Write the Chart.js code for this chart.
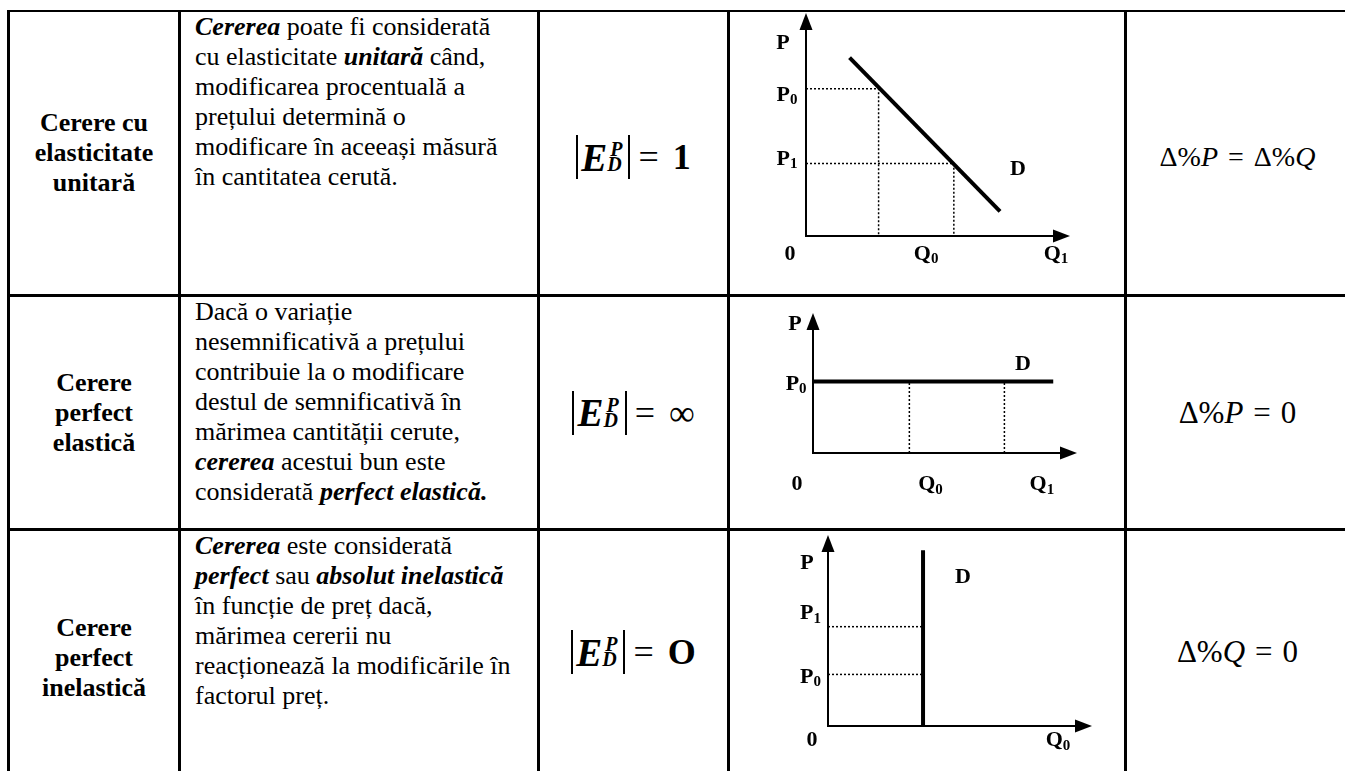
<!DOCTYPE html>
<html>
<head>
<meta charset="utf-8">
<script src="https://cdn.jsdelivr.net/npm/chart.js@4.4.0/dist/chart.umd.min.js"></script>
<style>
body { margin:0; background:#fff; width:1345px; height:771px; overflow:hidden; position:relative;
       font-family:"Liberation Serif","Times New Roman",serif; color:#000; }
.hl { position:absolute; left:7px; width:1338px; height:3px; background:#000; }
.vl { position:absolute; top:10px; width:3px; height:761px; background:#000; }
.cell { position:absolute; display:flex; align-items:center; justify-content:center; }
.label { font-weight:bold; font-size:26px; line-height:30px; text-align:center; }
.txt { position:absolute; left:195px; font-size:26px; line-height:30px; white-space:nowrap; }
.bi { font-weight:bold; font-style:italic; }
canvas { position:absolute; }
.el { display:flex; align-items:center; font-size:36px; white-space:nowrap; }
.el .bar { display:inline-block; width:2px; height:44px; background:#000; }
.el .E { font-weight:bold; font-style:italic; font-size:39px; margin-left:3px; }
.el .ss { display:inline-flex; flex-direction:column; font-size:20px; line-height:15px; font-weight:bold; font-style:italic; margin:0 6px 0 3px; }
.el .ss i:last-child { margin-left:-3px; }
.el .eq { margin:0 14px 0 8px; }
.el .rhs { font-weight:bold; }
.pct { font-size:28px; white-space:nowrap; }
.pct.big { font-size:31px; }
.pct .sp { display:inline-block; width:10px; }
</style>
</head>
<body>
<!-- table grid -->
<div class="hl" style="top:10px;height:2px"></div>
<div class="hl" style="top:294px"></div>
<div class="hl" style="top:528px"></div>
<div class="vl" style="left:7px"></div>
<div class="vl" style="left:178px"></div>
<div class="vl" style="left:537px"></div>
<div class="vl" style="left:727px"></div>
<div class="vl" style="left:1124px"></div>

<!-- column 1 -->
<div class="cell label" style="left:10px;width:168px;top:12px;height:282px">Cerere cu<br>elasticitate<br>unitară</div>
<div class="cell label" style="left:10px;width:168px;top:297px;height:231px">Cerere<br>perfect<br>elastică</div>
<div class="cell label" style="left:10px;width:168px;top:531px;height:254px">Cerere<br>perfect<br>inelastică</div>

<!-- column 2 -->
<div class="txt" style="top:12px"><span class="bi">Cererea</span> poate fi considerată<br>cu elasticitate <span class="bi">unitară</span> când,<br>modificarea procentuală a<br>prețului determină o<br>modificare în aceeași măsură<br>în cantitatea cerută.</div>
<div class="txt" style="top:297px">Dacă o variație<br>nesemnificativă a prețului<br>contribuie la o modificare<br>destul de semnificativă în<br>mărimea cantității cerute,<br><span class="bi">cererea</span> acestui bun este<br>considerată <span class="bi">perfect elastică.</span></div>
<div class="txt" style="top:531px"><span class="bi">Cererea</span> este considerată<br><span class="bi">perfect</span> sau <span class="bi">absolut inelastică</span><br>în funcție de preț dacă,<br>mărimea cererii nu<br>reacționează la modificările în<br>factorul preț.</div>

<!-- column 3 -->
<div class="cell" style="left:540px;width:187px;top:12px;height:290px">
  <div class="el"><span class="bar"></span><span class="E">E</span><span class="ss"><i>P</i><i>D</i></span><span class="bar"></span><span class="eq">=</span><span class="rhs">1</span></div>
</div>
<div class="cell" style="left:540px;width:187px;top:297px;height:231px">
  <div class="el"><span class="bar"></span><span class="E">E</span><span class="ss"><i>P</i><i>D</i></span><span class="bar"></span><span class="eq">=</span><span>∞</span></div>
</div>
<div class="cell" style="left:540px;width:187px;top:531px;height:242px">
  <div class="el"><span class="bar"></span><span class="E">E</span><span class="ss"><i>P</i><i>D</i></span><span class="bar"></span><span class="eq">=</span><span class="rhs">O</span></div>
</div>

<!-- charts -->
<canvas id="unitChart" width="394" height="282" style="left:730px;top:12px"></canvas>
<canvas id="elasticChart" width="394" height="231" style="left:730px;top:297px"></canvas>
<canvas id="inelasticChart" width="394" height="240" style="left:730px;top:531px"></canvas>

<!-- column 5 -->
<div class="cell" style="left:1127px;width:221px;top:12px;height:290px">
  <div class="pct">Δ%<i>P</i><span class="sp"></span>=<span class="sp"></span>Δ%<i>Q</i></div>
</div>
<div class="cell" style="left:1127px;width:221px;top:297px;height:232px">
  <div class="pct big">Δ%<i>P</i><span class="sp"></span>=<span class="sp"></span>0</div>
</div>
<div class="cell" style="left:1127px;width:221px;top:531px;height:242px">
  <div class="pct big">Δ%<i>Q</i><span class="sp"></span>=<span class="sp"></span>0</div>
</div>

<script>
// unit elastic demand
const unitDemandQ = [1.65, 7.35];
const unitDemandP = [8.0, 1.1];
const unitPrices = [6.6, 3.25];      // P0, P1
const unitQuantities = [2.75, 5.6];  // where the guides meet the demand line
const unitLabels = [
    { text: 'P', sub: '', x: -0.87, y: 8.7 },
    { text: 'P', sub: '0', x: -0.72, y: 6.41 },
    { text: 'P', sub: '1', x: -0.72, y: 3.54 },
    { text: 'D', sub: '', x: 8.03, y: 3.09 },
    { text: '0', sub: '', x: -0.61, y: -0.72 },
    { text: 'Q', sub: '0', x: 4.55, y: -0.72 },
    { text: 'Q', sub: '1', x: 9.47, y: -0.72 }
];

// perfectly elastic demand
const elasticPrice = 5.1;
const elasticDemandQ = [0, 9.1];
const elasticQuantities = [3.65, 7.25];
const elasticLabels = [
    { text: 'P', sub: '', x: -0.68, y: 9.29 },
    { text: 'P', sub: '0', x: -0.64, y: 5.07 },
    { text: 'D', sub: '', x: 7.95, y: 6.5 },
    { text: '0', sub: '', x: -0.61, y: -2.14 },
    { text: 'Q', sub: '0', x: 4.45, y: -2.14 },
    { text: 'Q', sub: '1', x: 8.67, y: -2.14 }
];

// perfectly inelastic demand
const inelasticQuantity = 3.6;
const inelasticDemandP = [0, 9.2];
const inelasticPrices = [5.2, 2.7];  // P1, P0
const inelasticLabels = [
    { text: 'P', sub: '', x: -0.8, y: 8.59 },
    { text: 'D', sub: '', x: 5.11, y: 7.9 },
    { text: 'P', sub: '1', x: -0.66, y: 5.97 },
    { text: 'P', sub: '0', x: -0.66, y: 2.67 },
    { text: '0', sub: '', x: -0.61, y: -0.68 },
    { text: 'Q', sub: '0', x: 8.71, y: -0.68 }
];

const FONT = '"Liberation Serif", "Times New Roman", serif';

// axes with arrow heads and the letter labels
const axesPlugin = {
    id: 'econAxes',
    afterDatasetsDraw(chart, args, opts) {
        const ctx = chart.ctx;
        const x = chart.scales.x, y = chart.scales.y;
        const x0 = x.getPixelForValue(0), y0 = y.getPixelForValue(0);
        const xEnd = x.getPixelForValue(x.max), yEnd = y.getPixelForValue(y.max);
        ctx.save();
        ctx.strokeStyle = '#000';
        ctx.fillStyle = '#000';
        ctx.lineWidth = 2;
        ctx.beginPath();
        ctx.moveTo(x0, y0); ctx.lineTo(xEnd - 10, y0);
        ctx.moveTo(x0, y0 + 1); ctx.lineTo(x0, yEnd + 10);
        ctx.stroke();
        ctx.beginPath();
        ctx.moveTo(xEnd, y0); ctx.lineTo(xEnd - 17, y0 - 6.5); ctx.lineTo(xEnd - 17, y0 + 6.5);
        ctx.closePath(); ctx.fill();
        ctx.beginPath();
        ctx.moveTo(x0, yEnd); ctx.lineTo(x0 - 6.5, yEnd + 17); ctx.lineTo(x0 + 6.5, yEnd + 17);
        ctx.closePath(); ctx.fill();

        ctx.textBaseline = 'alphabetic';
        ctx.textAlign = 'left';
        opts.labels.forEach(l => {
            const px = x.getPixelForValue(l.x), py = y.getPixelForValue(l.y);
            ctx.font = 'bold 22px ' + FONT;
            const w1 = ctx.measureText(l.text).width;
            ctx.font = 'bold 15px ' + FONT;
            const w2 = l.sub ? ctx.measureText(l.sub).width : 0;
            const left = px - (w1 + w2) / 2;
            ctx.font = 'bold 22px ' + FONT;
            ctx.fillText(l.text, left, py + 7.5);
            if (l.sub) {
                ctx.font = 'bold 15px ' + FONT;
                ctx.fillText(l.sub, left + w1, py + 11);
            }
        });
        ctx.restore();
    }
};

function solid(points) {
    return { data: points, showLine: true, borderColor: '#000', borderWidth: 4, pointRadius: 0, clip: false, borderCapStyle: 'butt' };
}
function dotted(points) {
    return { data: points, showLine: true, borderColor: '#000', borderWidth: 1.5, borderDash: [2, 2], pointRadius: 0, clip: false };
}

function makeChart(id, datasets, labels, padding) {
    return new Chart(document.getElementById(id), {
        type: 'scatter',
        data: { datasets: datasets },
        options: {
            responsive: false,
            animation: false,
            devicePixelRatio: 1,
            events: [],
            layout: { padding: padding },
            scales: {
                x: { type: 'linear', min: 0, max: 10, display: false },
                y: { type: 'linear', min: 0, max: 10, display: false }
            },
            plugins: {
                legend: { display: false },
                tooltip: { enabled: false },
                econAxes: { labels: labels }
            }
        },
        plugins: [axesPlugin]
    });
}

// chart 1
const unitSets = unitPrices.map((p, i) => dotted([
    { x: 0, y: p }, { x: unitQuantities[i], y: p }, { x: unitQuantities[i], y: 0 }
]));
unitSets.push(solid(unitDemandQ.map((q, i) => ({ x: q, y: unitDemandP[i] }))));
makeChart('unitChart', unitSets, unitLabels, { left: 76, right: 54, top: 1, bottom: 58 });

// chart 2
const elasticSets = elasticQuantities.map(q => dotted([{ x: q, y: 0 }, { x: q, y: elasticPrice }]));
elasticSets.push(solid(elasticDemandQ.map(q => ({ x: q, y: elasticPrice }))));
makeChart('elasticChart', elasticSets, elasticLabels, { left: 83, right: 47, top: 16, bottom: 75 });

// chart 3
const inelasticSets = inelasticPrices.map(p => dotted([{ x: 0, y: p }, { x: inelasticQuantity, y: p }]));
inelasticSets.push(solid(inelasticDemandP.map(p => ({ x: inelasticQuantity, y: p }))));
makeChart('inelasticChart', inelasticSets, inelasticLabels, { left: 98, right: 32, top: 4, bottom: 45 });
</script>
</body>
</html>
